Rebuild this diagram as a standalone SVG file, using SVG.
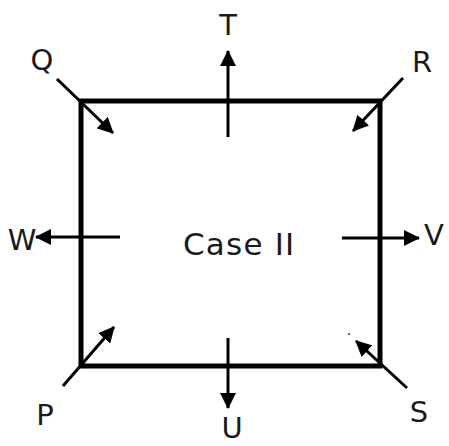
<svg xmlns="http://www.w3.org/2000/svg" width="449" height="446" viewBox="0 0 449 446">
<style>
.lbl{font-family:"DejaVu Sans",Verdana,sans-serif;font-size:29px;fill:#1a1a1a;text-anchor:middle}
.ar{stroke:#000;stroke-width:3;fill:none;marker-end:url(#ah)}
</style>
<defs>
<marker id="ah" markerUnits="userSpaceOnUse" markerWidth="16" markerHeight="16" refX="15" refY="8" orient="auto">
<path d="M0,0 L16,8 L0,16 Z" fill="#000"/>
</marker>
</defs>
<rect width="449" height="446" fill="#fff"/>
<g id="box">
<rect x="81" y="101" width="299" height="265" fill="none" stroke="#000" stroke-width="5"/>
<text class="lbl" x="183" y="255" style="text-anchor:start;font-size:31px;letter-spacing:1.2px">Case II</text>
</g>
<g id="connectors">
<line class="ar" x1="57" y1="79" x2="113" y2="133"/>
<line class="ar" x1="403" y1="78" x2="353" y2="131"/>
<line class="ar" x1="63" y1="386" x2="114" y2="327"/>
<line class="ar" x1="407" y1="388" x2="356" y2="341"/>
<line class="ar" x1="228" y1="137" x2="228" y2="51"/>
<line class="ar" x1="228" y1="338" x2="228" y2="408"/>
<line class="ar" x1="120" y1="237" x2="36" y2="237"/>
<line class="ar" x1="342" y1="238" x2="419" y2="238"/>
<circle cx="349" cy="334" r="1" fill="#333"/>
</g>
<g id="Q"><text class="lbl" x="42" y="70">Q</text></g>
<g id="R"><text class="lbl" x="422" y="72">R</text></g>
<g id="P"><text class="lbl" x="45" y="425">P</text></g>
<g id="S"><text class="lbl" x="419" y="422">S</text></g>
<g id="T"><text class="lbl" x="228" y="35">T</text></g>
<g id="U"><text class="lbl" x="232" y="438">U</text></g>
<g id="W"><text class="lbl" x="22" y="250">W</text></g>
<g id="V"><text class="lbl" x="434" y="245">V</text></g>
</svg>
